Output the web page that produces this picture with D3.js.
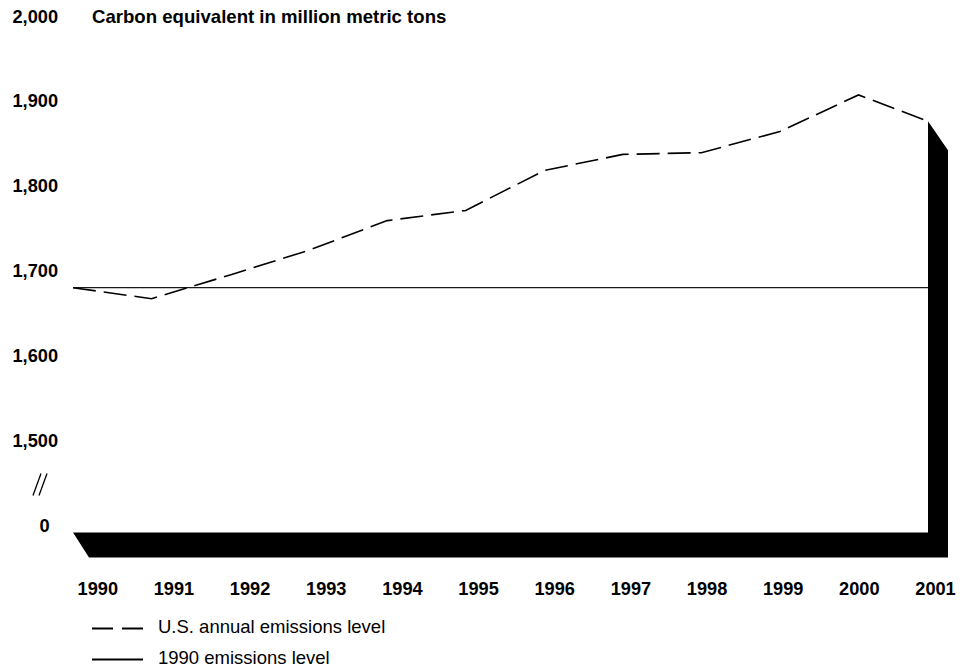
<!DOCTYPE html>
<html>
<head>
<meta charset="utf-8">
<script src="https://cdn.jsdelivr.net/npm/d3@7"></script>
<style>
  html, body { margin: 0; padding: 0; background: #fff; }
  svg { display: block; }
  text { font-family: "Liberation Sans", Arial, Helvetica, sans-serif; fill: #000; }
</style>
</head>
<body>
<svg id="chart" width="971" height="667"></svg>
<script>
// U.S. greenhouse gas emissions, carbon equivalent (million metric tons)
const years = [1990, 1991, 1992, 1993, 1994, 1995, 1996, 1997, 1998, 1999, 2000, 2001];
const emissions = [1680, 1667, 1695, 1724, 1759, 1771, 1818, 1837, 1839, 1864, 1907, 1872];
const baselineYear = 1990;
const yTicks = [1500, 1600, 1700, 1800, 1900, 2000];
const yTickLabels = ["1,500", "1,600", "1,700", "1,800", "1,900", "2,000"];
const legendLabels = ["U.S. annual emissions level", "1990 emissions level"];
const unitTitle = "Carbon equivalent in million metric tons";

const svg = d3.select("#chart");

// Layout
const plotLeft = 73, plotRight = 928;
const yearStep = 78.55;
const floorDepth = { dx: 16, dy: 25 };
const wallDepth = { dx: 20, dy: 29 };

// Scales: the value axis is broken between 0 and 1,500
const x = d3.scaleLinear()
  .domain([years[0], years[years.length - 1]])
  .range([plotLeft, plotLeft + yearStep * (years.length - 1)]);
const y = d3.scaleLinear()
  .domain([0, 1500, 2000])
  .range([532.5, 440.5, 16]);
// Year labels sit on the front edge of the floor
const xLabel = d3.scaleLinear()
  .domain([years[0], years[years.length - 1]])
  .range([97.3, 935]);

const data = years.map((yr, i) => ({ year: yr, value: emissions[i] }));
const baseValue = data.find(d => d.year === baselineYear).value;

// Emissions value where the series meets the back wall
const wallYear = x.invert(plotRight);
const i1 = d3.bisectRight(years, wallYear);
const d0 = data[i1 - 1], d1 = data[i1];
const wallValue = d0.value + (d1.value - d0.value) * (wallYear - d0.year) / (d1.year - d0.year);

// Floor and right wall (3-D base)
const floorTop = y(0);
const base = d3.path();
base.moveTo(plotLeft, floorTop);
base.lineTo(plotRight, floorTop);
base.lineTo(plotRight, y(wallValue));
base.lineTo(plotRight + wallDepth.dx, y(wallValue) + wallDepth.dy);
base.lineTo(plotRight + wallDepth.dx, floorTop + floorDepth.dy);
base.lineTo(plotLeft + floorDepth.dx, floorTop + floorDepth.dy);
base.closePath();
svg.append("path").attr("d", base.toString()).attr("fill", "#000");

// Clip series to the plot area in front of the wall
svg.append("defs").append("clipPath").attr("id", "plotClip")
  .append("rect")
  .attr("x", plotLeft - 2).attr("y", 0)
  .attr("width", plotRight - plotLeft + 2).attr("height", floorTop);

// 1990 emissions level
svg.append("line")
  .attr("x1", plotLeft).attr("x2", plotRight)
  .attr("y1", y(baseValue)).attr("y2", y(baseValue))
  .attr("stroke", "#1a1a1a").attr("stroke-width", 1.3);

// Annual emissions line
const line = d3.line().x(d => x(d.year)).y(d => y(d.value));
svg.append("path")
  .datum(data)
  .attr("clip-path", "url(#plotClip)")
  .attr("d", line)
  .attr("fill", "none")
  .attr("stroke", "#000")
  .attr("stroke-width", 1.6)
  .attr("stroke-dasharray", "23,8");

// Y axis labels
const yAxis = svg.append("g").attr("font-size", 18.2).attr("font-weight", "bold");
yAxis.selectAll("text.ytick")
  .data(yTicks)
  .join("text")
  .attr("class", "ytick")
  .attr("x", 58)
  .attr("y", d => y(d))
  .attr("dy", "0.36em")
  .attr("text-anchor", "end")
  .text((d, i) => yTickLabels[i]);
yAxis.append("text")
  .attr("x", 49.5).attr("y", y(0) - 7.5)
  .attr("dy", "0.36em")
  .attr("text-anchor", "end")
  .text("0");

// Axis break mark
const brk = svg.append("g").attr("stroke", "#000").attr("stroke-width", 1.3);
const brkY = (y(1500) + y(0)) / 2 - 2;
[-3, 3].forEach(off => {
  brk.append("line")
    .attr("x1", 36 + off).attr("y1", brkY + 11)
    .attr("x2", 44 + off).attr("y2", brkY - 11);
});

// Title
svg.append("text")
  .attr("x", 92).attr("y", y(2000))
  .attr("dy", "0.36em")
  .attr("font-size", 18.6).attr("font-weight", "bold")
  .text(unitTitle);

// X axis (year) labels
svg.append("g")
  .attr("transform", `translate(0,${floorTop + 56})`)
  .call(d3.axisBottom(xLabel).tickValues(years).tickFormat(d3.format("d")).tickSize(0))
  .call(g => g.select(".domain").remove())
  .call(g => g.selectAll("text")
    .attr("font-family", "'Liberation Sans', Arial, Helvetica, sans-serif")
    .attr("font-size", 18.2).attr("font-weight", "bold").attr("fill", "#000")
    .attr("dy", "0.36em").attr("y", 0));

// Legend
const legend = svg.append("g").attr("font-size", 18.5);
const legendRows = [
  { label: legendLabels[0], dash: "21,9", y: 628.5 },
  { label: legendLabels[1], dash: null, y: 659.5 }
];
legendRows.forEach(r => {
  legend.append("line")
    .attr("x1", 92).attr("x2", 143)
    .attr("y1", r.y).attr("y2", r.y)
    .attr("stroke", "#000").attr("stroke-width", 1.8)
    .attr("stroke-dasharray", r.dash);
  legend.append("text")
    .attr("x", 158).attr("y", r.y - 2)
    .attr("dy", "0.36em")
    .text(r.label);
});
</script>
</body>
</html>
